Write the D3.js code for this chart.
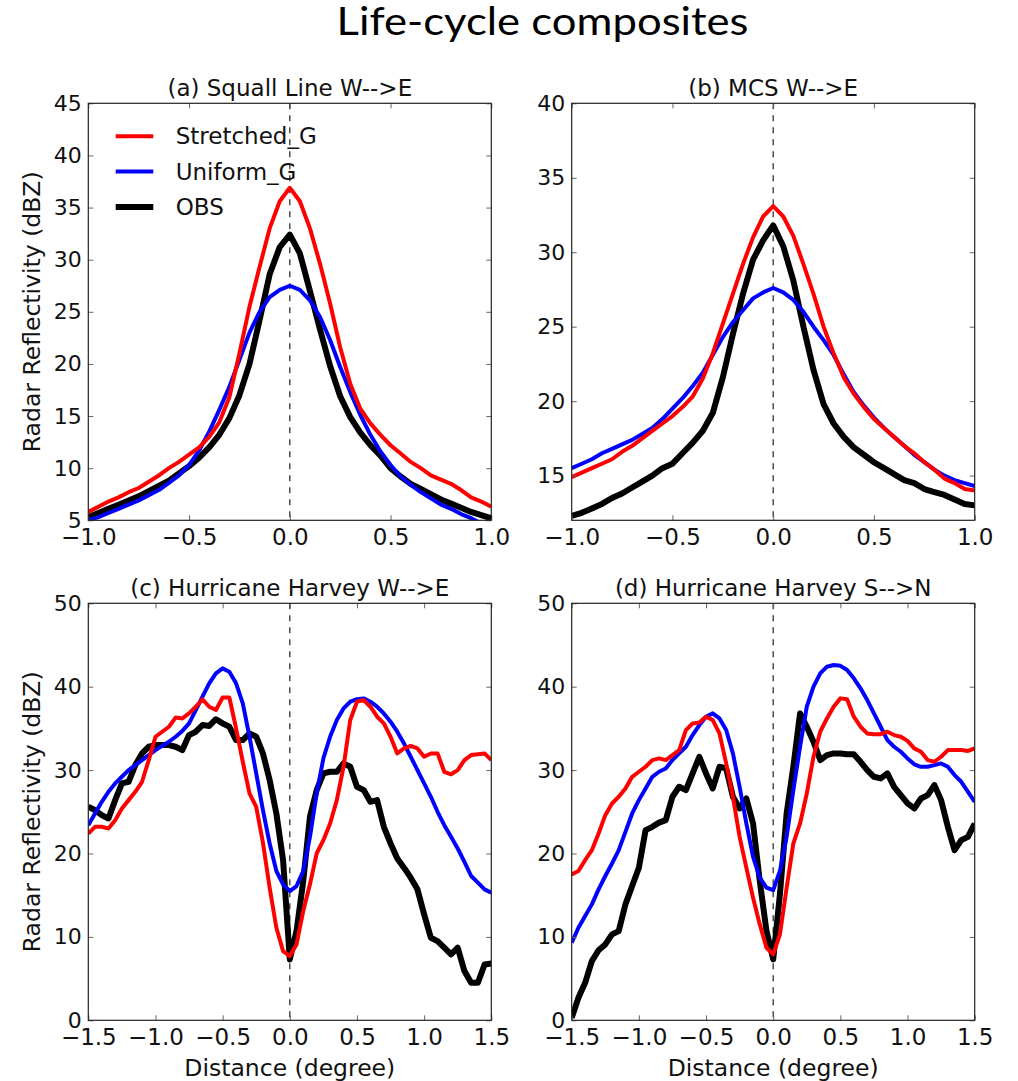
<!DOCTYPE html>
<html>
<head>
<meta charset="utf-8">
<script src="https://cdn.jsdelivr.net/npm/d3@7"></script>
<style>
  body { margin: 0; background: #fff; }
  svg { display: block; }
  text { font-family: "DejaVu Sans", sans-serif; fill: #111; }
</style>
</head>
<body>
<div id="chart"></div>
<script>
// x grids (degree)
const xSmall = [-1.0,-0.95,-0.9,-0.85,-0.8,-0.75,-0.7,-0.65,-0.6,-0.55,-0.5,-0.45,-0.4,-0.35,-0.3,-0.25,-0.2,-0.15,-0.1,-0.05,
  0.0,0.05,0.1,0.15,0.2,0.25,0.3,0.35,0.4,0.45,0.5,0.55,0.6,0.65,0.7,0.75,0.8,0.85,0.9,0.95,1.0];
const xLarge = [-1.5,-1.45,-1.4,-1.35,-1.3,-1.25,-1.2,-1.15,-1.1,-1.05,-1.0,-0.95,-0.9,-0.85,-0.8,-0.75,-0.7,-0.65,-0.6,-0.55,
  -0.5,-0.45,-0.4,-0.35,-0.3,-0.25,-0.2,-0.15,-0.1,-0.05,0.0,0.05,0.1,0.15,0.2,0.25,0.3,0.35,0.4,0.45,
  0.5,0.55,0.6,0.65,0.7,0.75,0.8,0.85,0.9,0.95,1.0,1.05,1.1,1.15,1.2,1.25,1.3,1.35,1.4,1.45,1.5];

// (a) Squall line
const squallStretched = [5.8,6.3,6.8,7.2,7.7,8.1,8.7,9.3,10.0,10.6,11.3,12.0,13.0,14.4,16.8,21.0,25.5,29.3,33.0,35.6,
  36.9,35.6,33.0,29.6,25.8,21.6,18.1,15.7,14.3,13.2,12.2,11.4,10.6,10.0,9.3,8.9,8.5,7.9,7.2,6.8,6.3];
const squallUniform = [5.0,5.3,5.7,6.1,6.5,6.9,7.4,7.9,8.6,9.3,10.3,11.7,13.5,15.6,17.8,20.4,23.0,25.0,26.4,27.1,
  27.5,27.1,26.1,24.5,22.3,19.7,17.3,15.1,13.2,11.6,10.3,9.2,8.4,7.7,7.1,6.5,6.1,5.6,5.2,4.7,4.4];
const squallObs = [5.3,5.7,6.1,6.5,6.9,7.3,7.8,8.3,8.8,9.5,10.2,11.0,12.0,13.2,14.8,17.0,20.0,24.2,28.6,31.2,
  32.4,30.6,27.0,23.3,19.8,16.9,14.9,13.4,12.2,11.2,10.0,9.2,8.5,8.0,7.5,7.0,6.6,6.2,5.8,5.5,5.2];

// (b) MCS
const mcsStretched = [14.9,15.2,15.5,15.8,16.1,16.6,17.0,17.5,18.0,18.5,19.0,19.6,20.3,21.5,23.2,25.2,27.2,29.2,31.0,32.4,
  33.1,32.4,31.1,29.2,27.2,25.0,23.2,21.6,20.5,19.6,18.8,18.2,17.6,17.0,16.5,15.9,15.4,14.8,14.5,14.1,14.0];
const mcsUniform = [15.5,15.8,16.1,16.5,16.8,17.1,17.4,17.8,18.2,18.8,19.5,20.2,21.0,21.9,23.1,24.3,25.3,26.1,26.9,27.3,
  27.6,27.3,26.8,26.0,25.0,24.1,23.1,21.8,20.6,19.7,18.9,18.2,17.6,17.0,16.4,15.9,15.4,15.0,14.7,14.5,14.3];
const mcsObs = [12.3,12.5,12.8,13.1,13.5,13.8,14.2,14.6,15.0,15.5,15.8,16.5,17.2,18.0,19.2,21.6,24.5,27.2,29.5,30.8,
  31.8,30.4,28.1,25.0,22.1,19.8,18.5,17.6,16.9,16.4,15.9,15.5,15.1,14.7,14.5,14.1,13.9,13.7,13.4,13.1,13.0];

// (c) Harvey W-->E
const harveyWEStretched = [22.4,23.2,23.2,23.0,24.0,25.4,26.4,27.4,28.6,31.2,34.0,34.6,35.2,36.3,36.2,36.8,37.6,38.5,37.6,37.2,
  38.7,38.7,35.0,31.0,27.2,25.6,21.3,15.9,11.1,8.3,7.7,9.1,13.1,16.3,20.0,21.6,23.6,26.4,30.4,36.0,
  38.2,38.4,37.6,36.4,35.6,34.0,32.0,32.6,32.9,32.6,31.6,32.0,32.0,29.8,29.5,30.0,31.2,31.8,31.9,32.0,31.2];
const harveyWEUniform = [23.4,24.8,26.2,27.4,28.4,29.2,30.0,30.6,31.2,31.8,32.4,32.9,33.4,34.0,34.7,35.6,37.2,38.8,40.4,41.6,
  42.2,41.8,40.4,38.0,34.0,29.6,25.2,21.2,17.9,16.3,15.5,16.1,17.9,22.0,27.2,31.4,34.0,36.0,37.4,38.2,
  38.5,38.6,38.2,37.6,36.8,35.8,34.6,33.2,31.6,30.0,28.4,26.8,25.0,23.4,22.0,20.6,19.0,17.3,16.5,15.7,15.3];
const harveyWEObs = [25.6,25.2,24.6,24.2,26.4,28.4,28.6,30.6,32.0,32.8,33.0,33.0,33.0,32.8,32.4,34.2,34.6,35.4,35.3,36.1,
  35.6,35.2,33.6,33.6,34.4,34.0,32.0,28.8,24.8,19.2,7.3,10.7,16.7,24.4,27.6,29.6,29.8,29.8,30.8,30.4,
  28.0,27.6,26.2,26.4,23.2,21.2,19.4,18.3,17.1,15.7,12.7,9.9,9.5,8.7,7.9,8.7,5.9,4.5,4.5,6.7,6.8];

// (d) Harvey S-->N
const harveySNStretched = [17.5,17.9,19.2,20.4,22.4,24.6,26.0,26.8,27.8,29.2,29.8,30.4,31.2,31.4,31.2,31.8,32.4,34.8,35.6,35.7,
  36.4,36.0,34.4,30.8,26.8,22.0,18.3,14.7,11.5,8.7,7.9,10.3,15.9,21.2,23.6,27.2,31.6,34.6,36.2,37.6,
  38.6,38.5,36.4,35.2,34.4,34.3,34.3,34.6,34.2,34.0,33.5,32.6,32.2,31.2,31.0,31.6,32.4,32.4,32.4,32.3,32.6];
const harveySNUniform = [9.3,11.1,12.5,13.9,15.7,17.3,18.8,20.4,22.6,24.8,26.4,27.8,29.2,29.8,30.2,31.2,32.0,32.8,34.2,35.4,
  36.4,36.8,36.2,34.8,32.0,28.0,23.6,19.6,17.1,15.9,15.6,17.9,22.0,27.6,32.8,37.6,40.0,41.6,42.4,42.6,
  42.5,42.0,41.0,39.8,38.4,36.8,35.2,33.6,32.8,32.2,31.4,30.7,30.4,30.4,30.6,30.8,30.4,29.4,28.6,27.4,26.2];
const harveySNObs = [0.3,2.7,4.5,7.1,8.4,9.1,10.3,10.7,13.9,16.1,18.3,22.8,23.2,23.7,24.0,26.8,28.0,27.6,29.6,31.6,
  29.6,27.8,30.4,30.2,26.8,25.4,26.6,23.6,16.7,10.7,7.3,15.1,24.8,30.4,36.8,35.2,33.4,31.2,31.8,32.0,
  32.0,31.9,31.9,31.0,30.0,29.2,29.0,29.6,28.0,27.0,26.0,25.4,26.6,27.0,28.2,26.4,23.2,20.4,21.6,22.0,23.6];

const seriesNames = ["Stretched_G", "Uniform_G", "OBS"];
const panelTitles = ["(a) Squall Line W-->E", "(b) MCS W-->E", "(c) Hurricane Harvey W-->E", "(d) Hurricane Harvey S-->N"];
const xTicksSmall = [-1.0, -0.5, 0.0, 0.5, 1.0];
const xTicksLarge = [-1.5, -1.0, -0.5, 0.0, 0.5, 1.0, 1.5];
const yTicksA = [5, 10, 15, 20, 25, 30, 35, 40, 45];
const yTicksB = [15, 20, 25, 30, 35, 40];
const yTicksCD = [0, 10, 20, 30, 40, 50];

const width = 1018, height = 1081;
const plotW = 403, plotH = 417;

const style = {
  "Stretched_G": {color: "#ff0000", width: 4},
  "Uniform_G": {color: "#0000ff", width: 4},
  "OBS": {color: "#000000", width: 6}
};

const panels = [
  {title: panelTitles[0], x: xSmall, data: [squallStretched, squallUniform, squallObs], xDomain: [-1, 1], yDomain: [5, 45],
   xTicks: xTicksSmall, yTicks: yTicksA, left: 88.3, top: 103.3, yLabel: true, xLabel: false, legend: true},
  {title: panelTitles[1], x: xSmall, data: [mcsStretched, mcsUniform, mcsObs], xDomain: [-1, 1], yDomain: [12, 40],
   xTicks: xTicksSmall, yTicks: yTicksB, left: 571.7, top: 103.3, yLabel: false, xLabel: false, legend: false},
  {title: panelTitles[2], x: xLarge, data: [harveyWEStretched, harveyWEUniform, harveyWEObs], xDomain: [-1.5, 1.5], yDomain: [0, 50],
   xTicks: xTicksLarge, yTicks: yTicksCD, left: 88.3, top: 603.3, yLabel: true, xLabel: true, legend: false},
  {title: panelTitles[3], x: xLarge, data: [harveySNStretched, harveySNUniform, harveySNObs], xDomain: [-1.5, 1.5], yDomain: [0, 50],
   xTicks: xTicksLarge, yTicks: yTicksCD, left: 571.7, top: 603.3, yLabel: false, xLabel: true, legend: false}
];

const svg = d3.select("#chart").append("svg")
  .attr("width", width)
  .attr("height", height);

svg.append("rect").attr("width", width).attr("height", height).attr("fill", "#fff");

// figure title
svg.append("text")
  .attr("x", 542.5)
  .attr("y", 35)
  .attr("text-anchor", "middle")
  .style("font-family", "Lato, 'Open Sans', sans-serif")
  .style("font-size", "39px")
  .style("fill", "#000")
  .attr("textLength", 412)
  .attr("lengthAdjust", "spacingAndGlyphs")
  .text("Life-cycle composites");

const fmtX = d3.format(".1f");

panels.forEach((p, i) => {
  const g = svg.append("g").attr("transform", `translate(${p.left},${p.top})`);

  const x = d3.scaleLinear().domain(p.xDomain).range([0, plotW]);
  const y = d3.scaleLinear().domain(p.yDomain).range([plotH, 0]);

  g.append("clipPath").attr("id", "clip" + i)
    .append("rect").attr("width", plotW).attr("height", plotH);

  // zero line
  g.append("line")
    .attr("x1", x(0)).attr("x2", x(0))
    .attr("y1", 0).attr("y2", plotH)
    .attr("stroke", "#333")
    .attr("stroke-width", 1.3)
    .attr("stroke-dasharray", "6,6");

  // lines: OBS first, then Uniform, then Stretched on top
  const line = d3.line()
    .x((d, k) => x(p.x[k]))
    .y(d => y(d));

  const lines = g.append("g").attr("clip-path", `url(#clip${i})`);
  [2, 1, 0].forEach(s => {
    const st = style[seriesNames[s]];
    lines.append("path")
      .datum(p.data[s])
      .attr("fill", "none")
      .attr("stroke", st.color)
      .attr("stroke-width", st.width)
      .attr("stroke-linejoin", "round")
      .attr("d", line);
  });

  // axes, ticks inside on all four sides
  const axB = g.append("g").attr("transform", `translate(0,${plotH})`)
    .call(d3.axisBottom(x).tickValues(p.xTicks).tickFormat(fmtX).tickSize(-5).tickSizeOuter(0).tickPadding(8));
  const axT = g.append("g")
    .call(d3.axisTop(x).tickValues(p.xTicks).tickFormat("").tickSize(-5).tickSizeOuter(0));
  const axL = g.append("g")
    .call(d3.axisLeft(y).tickValues(p.yTicks).tickFormat(d3.format("d")).tickSize(-5).tickSizeOuter(0).tickPadding(6.5));
  const axR = g.append("g").attr("transform", `translate(${plotW},0)`)
    .call(d3.axisRight(y).tickValues(p.yTicks).tickFormat("").tickSize(-5).tickSizeOuter(0));

  [axB, axT, axL, axR].forEach(a => {
    a.select(".domain").remove();
    a.selectAll(".tick line").attr("stroke", "#666").attr("stroke-width", 1);
  });
  axB.selectAll("text").style("font-size", "23px").attr("fill", "#111");
  axL.selectAll("text").style("font-size", "22px").attr("fill", "#111");

  // frame
  g.append("rect")
    .attr("width", plotW).attr("height", plotH)
    .attr("fill", "none")
    .attr("stroke", "#222")
    .attr("stroke-width", 1.2);

  // panel title
  g.append("text")
    .attr("x", plotW / 2)
    .attr("y", -7)
    .attr("text-anchor", "middle")
    .style("font-size", "23px")
    .text(p.title);

  if (p.yLabel) {
    g.append("text")
      .attr("transform", `translate(${40 - p.left},${plotH / 2}) rotate(-90)`)
      .attr("text-anchor", "middle")
      .style("font-size", "23.5px")
      .text("Radar Reflectivity (dBZ)");
  }
  if (p.xLabel) {
    g.append("text")
      .attr("x", plotW / 2)
      .attr("y", plotH + 56)
      .attr("text-anchor", "middle")
      .style("font-size", "23.5px")
      .text("Distance (degree)");
  }

  if (p.legend) {
    const leg = g.append("g");
    seriesNames.forEach((name, k) => {
      const ly = 33 + k * 35.3;
      leg.append("line")
        .attr("x1", 27.4).attr("x2", 65)
        .attr("y1", ly).attr("y2", ly)
        .attr("stroke", style[name].color)
        .attr("stroke-width", style[name].width);
      leg.append("text")
        .attr("x", 87.4)
        .attr("y", ly + 8)
        .style("font-size", "23px")
        .text(name);
    });
  }
});
</script>
</body>
</html>
